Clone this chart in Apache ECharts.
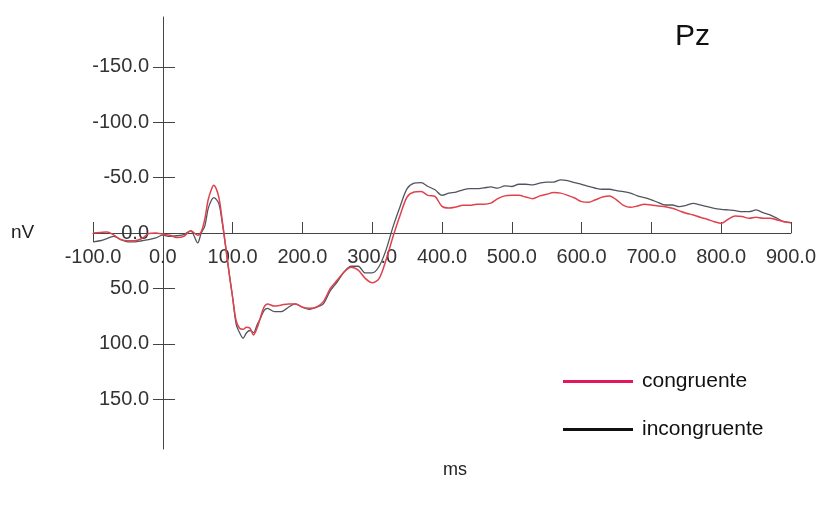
<!DOCTYPE html>
<html>
<head>
<meta charset="utf-8">
<title>Pz</title>
<script src="https://cdn.jsdelivr.net/npm/echarts@6/dist/echarts.min.js"></script>
<style>
    html, body {margin: 0; padding: 0; background: #ffffff;}
    #erpChart {width: 820px; height: 506px;}
</style>
</head>
<body>
<div id="erpChart"></div>
<script>
// time points (ms)
const times = [-100, -90, -80, -70, -60, -50, -40, -30, -20, -10,
    0, 10, 20, 30, 40, 50, 55, 60, 65, 70, 73, 80, 85, 90, 95,
    100, 105, 110, 115, 120, 125, 130, 135, 140, 145, 150, 160, 170, 180, 190,
    200, 210, 220, 230, 240, 250, 260, 270, 280, 290,
    300, 310, 320, 330, 340, 350, 360, 370, 380, 390,
    400, 410, 420, 430, 440, 450, 460, 470, 480, 490,
    500, 510, 520, 530, 540, 550, 560, 570, 580, 590,
    600, 610, 620, 630, 640, 650, 660, 670, 680, 690,
    700, 710, 720, 730, 740, 750, 760, 770, 780, 790,
    800, 810, 820, 830, 840, 850, 860, 870, 880, 890, 900];

const congruente = [0, -0.5, -1, 2, 6, 7, 7, 5, 0.5, 0,
    1, 2, 4, 3, -2, 2, -1, -12, -30, -40, -43, -33, -12, 12, 36,
    58, 79, 86, 87, 85, 86, 92, 86, 76, 67, 64, 66, 65, 64, 64,
    67, 68, 67, 62, 50, 42.5, 35, 31, 33.5, 41,
    45, 41, 24, 3, -16, -32.5, -37, -37.5, -34, -33,
    -24, -22.5, -23.5, -25, -25, -26, -26, -27, -31, -33.5,
    -34, -34, -32.5, -31, -33.5, -35, -36.5, -36, -34, -31.6,
    -28.3, -27.7, -30, -32.5, -33.5, -30, -25, -23.2, -24.4, -26,
    -25.3, -24.4, -23.8, -22.3, -20, -17.8, -16.3, -14.2, -12.4, -10.2,
    -8.7, -12.4, -15.4, -14.8, -13.3, -14.2, -13.3, -13.3, -11.8, -10.2, -9.3];

const incongruente = [8, 7, 5, 3, 6, 8, 8, 7, 6, 4.5,
    2, 3, 2.5, 1.5, -2, 9, 0, -6, -22, -30, -32, -27, -10, 12, 36,
    58, 82, 90, 95, 90, 88, 90, 83, 77, 70, 68, 71, 71, 67, 64,
    67, 69, 67, 64, 52, 44, 35, 30, 30, 36,
    36, 30, 15, -6, -24, -40, -45, -45.5, -42, -39,
    -34, -36, -37, -39, -40, -40, -40.7, -41.6, -40.5, -42.5,
    -42, -44, -44, -43.4, -45, -46, -46, -48, -47.3, -45.5,
    -44, -42, -40.4, -39.5, -39.5, -38.3, -37.4, -36, -33.5, -32,
    -30, -27.4, -25.3, -25.3, -23.8, -25, -26.8, -25.3, -23.8, -22.3,
    -21.4, -20.8, -20.2, -19.3, -19.3, -20.8, -18.4, -16.3, -13.3, -10.2, -9.3];

// axis ticks
const xTicks = [-100, 0, 100, 200, 300, 400, 500, 600, 700, 800, 900];
const yTicks = [-150, -100, -50, 0, 50, 100, 150];

const myChart = echarts.init(document.getElementById('erpChart'));

function pairs(values) {
    return times.map(function (t, i) {
        return [t, values[i]];
    });
}

const labelFont = 'Liberation Sans, Arial, sans-serif';

// axes are drawn through the zero of the other axis (shifted with offset)
const gridLeft = 93, gridTop = 17, gridBottom = 57;
const yZeroShift = -70;   // x = 0 lies 70px right of grid left
const xZeroShift = -216;  // y = 0 lies 216px above grid bottom

const option = {
    backgroundColor: '#ffffff',
    animation: false,
    textStyle: {fontFamily: labelFont},
    grid: {
        left: gridLeft,
        right: 29,
        top: gridTop,
        bottom: gridBottom
    },
    legend: {
        orient: 'vertical',
        left: 558,
        top: 366,
        icon: 'rect',
        itemWidth: 70,
        itemHeight: 3,
        itemGap: 27,
        textStyle: {
            fontSize: 21,
            color: '#111',
            padding: [0, 0, 0, 4]
        },
        data: [
            {name: 'congruente', itemStyle: {color: '#e5175c'}},
            {name: 'incongruente', itemStyle: {color: '#111111'}}
        ]
    },
    graphic: [
        {
            type: 'text',
            left: 11,
            top: 223,
            style: {text: 'nV', fill: '#222', font: '19px Liberation Sans'}
        },
        {
            type: 'text',
            left: 443,
            top: 461,
            style: {text: 'ms', fill: '#222', font: '18px Liberation Sans'}
        },
        {
            type: 'text',
            left: 675,
            top: 22,
            style: {text: 'Pz', fill: '#111', font: '30px Liberation Sans'}
        }
    ],
    xAxis: [
        {
            type: 'value',
            min: -100,
            max: 900,
            interval: 100,
            offset: xZeroShift,
            axisLine: {onZero: false, lineStyle: {color: '#444', width: 1}},
            axisTick: {
                inside: true,
                length: 11,
                customValues: xTicks,
                lineStyle: {color: '#444'}
            },
            axisLabel: {
                customValues: xTicks,
                margin: 14,
                fontSize: 20,
                color: '#333',
                formatter: function (v) {
                    return v.toFixed(1);
                }
            },
            splitLine: {show: false}
        },
        {
            // lower half of the -100 tick
            type: 'value',
            position: 'bottom',
            min: -100,
            max: 900,
            interval: 100,
            offset: xZeroShift,
            axisLine: {show: false, onZero: false},
            axisTick: {
                show: true,
                length: 9,
                customValues: [-100],
                lineStyle: {color: '#444'}
            },
            axisLabel: {show: false},
            splitLine: {show: false}
        }
    ],
    yAxis: [
        {
            type: 'value',
            inverse: true,
            min: -195,
            max: 195,
            offset: yZeroShift,
            axisLine: {show: true, onZero: false, lineStyle: {color: '#444', width: 1}},
            axisTick: {
                show: true,
                inside: true,
                length: 12,
                customValues: yTicks,
                lineStyle: {color: '#444'}
            },
            axisLabel: {
                customValues: yTicks,
                margin: 14,
                fontSize: 20,
                color: '#333',
                formatter: function (v) {
                    return v.toFixed(1);
                }
            },
            splitLine: {show: false}
        },
        {
            type: 'value',
            inverse: true,
            position: 'left',
            min: -195,
            max: 195,
            offset: yZeroShift,
            axisLine: {show: false, onZero: false},
            axisTick: {
                show: true,
                length: 10,
                customValues: yTicks,
                lineStyle: {color: '#444'}
            },
            axisLabel: {show: false},
            splitLine: {show: false}
        }
    ],
    series: [
        {
            name: 'congruente',
            type: 'line',
            data: pairs(congruente),
            showSymbol: false,
            smooth: 0.3,
            z: 3,
            lineStyle: {color: '#e0424d', width: 1.5}
        },
        {
            name: 'incongruente',
            type: 'line',
            data: pairs(incongruente),
            showSymbol: false,
            smooth: 0.3,
            z: 2,
            lineStyle: {color: '#50555e', width: 1.3}
        }
    ]
};

myChart.setOption(option);
window.onresize = myChart.resize;
</script>
</body>
</html>
